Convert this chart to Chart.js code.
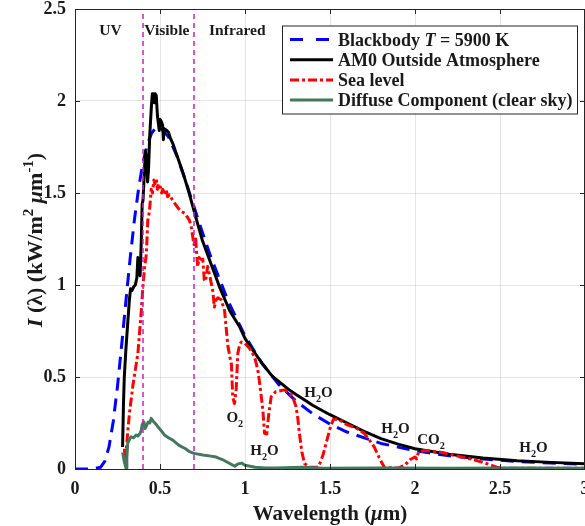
<!DOCTYPE html>
<html>
<head>
<meta charset="utf-8">
<script src="https://cdn.jsdelivr.net/npm/chart.js@4.4.1/dist/chart.umd.min.js"></script>
<style>
  html, body { margin: 0; padding: 0; background: #fff; }
  #wrap { width: 585px; height: 526px; }
</style>
</head>
<body>
<div id="wrap"><canvas id="chart" width="585" height="526"></canvas></div>
<script>
// Blackbody T = 5900 K
const bbWl = [0, 0.05, 0.1, 0.15, 0.175, 0.2, 0.225, 0.25, 0.275, 0.3, 0.325, 0.35, 0.375, 0.4, 0.425,
  0.45, 0.475, 0.5, 0.55, 0.6, 0.65, 0.7, 0.75, 0.8, 0.9, 1.0, 1.1, 1.2, 1.3, 1.4, 1.5, 1.6, 1.8,
  2.0, 2.2, 2.4, 2.6, 2.8, 3.0];
const bbI = [0, 0, 0, 0.009, 0.041, 0.12, 0.258, 0.45, 0.678, 0.918, 1.15, 1.358, 1.531, 1.666, 1.763,
  1.824, 1.854, 1.859, 1.805, 1.70, 1.567, 1.425, 1.284, 1.15, 0.914, 0.723, 0.574, 0.458, 0.369, 0.299,
  0.244, 0.201, 0.139, 0.099, 0.072, 0.054, 0.041, 0.032, 0.025];

// AM0 outside atmosphere
const am0Wl = [0.28, 0.285, 0.29, 0.3, 0.31, 0.32, 0.327, 0.335, 0.345, 0.355, 0.364, 0.37, 0.376, 0.383,
  0.39, 0.395, 0.4, 0.41, 0.415, 0.42, 0.427, 0.432, 0.44, 0.45, 0.455, 0.462, 0.467, 0.472, 0.478, 0.485,
  0.49, 0.496, 0.5, 0.507, 0.515, 0.52, 0.525, 0.54, 0.55, 0.56, 0.575, 0.59, 0.605, 0.635, 0.665, 0.695,
  0.713, 0.75, 0.79, 0.85, 0.91, 0.97, 1.0, 1.05, 1.1, 1.16, 1.2, 1.26, 1.3, 1.36, 1.4, 1.5, 1.6, 1.7,
  1.8, 1.9, 2.0, 2.2, 2.4, 2.6, 2.8, 3.0];
const am0I = [0.12, 0.35, 0.5, 0.66, 0.79, 0.92, 0.98, 0.97, 0.99, 1.0, 1.04, 1.15, 1.08, 1.05,
  1.24, 1.44, 1.46, 1.65, 1.73, 1.69, 1.56, 1.62, 1.82, 1.98, 2.04, 2.04, 1.99, 2.04, 2.03, 1.92,
  1.88, 1.84, 1.9, 1.89, 1.87, 1.79, 1.85, 1.84, 1.83, 1.8, 1.77, 1.73, 1.69, 1.61, 1.52, 1.42,
  1.36, 1.24, 1.14, 0.99, 0.86, 0.77, 0.71, 0.64, 0.575, 0.505, 0.475, 0.43, 0.405, 0.37, 0.345, 0.295,
  0.25, 0.205, 0.165, 0.135, 0.11, 0.08, 0.06, 0.045, 0.036, 0.028];

// Sea level
const seaWl = [0.291, 0.295, 0.3, 0.31, 0.32, 0.34, 0.37, 0.39, 0.4, 0.41, 0.42, 0.428, 0.438, 0.448,
  0.456, 0.464, 0.47, 0.478, 0.485, 0.49, 0.5, 0.51, 0.517, 0.525, 0.536, 0.545, 0.556, 0.575, 0.59,
  0.605, 0.625, 0.645, 0.66, 0.674, 0.685, 0.693, 0.7, 0.71, 0.715, 0.722, 0.73, 0.74, 0.752, 0.76,
  0.768, 0.78, 0.795, 0.81, 0.82, 0.83, 0.84, 0.86, 0.88, 0.89, 0.9, 0.915, 0.92, 0.928, 0.938, 0.948,
  0.958, 0.97, 0.978, 0.997, 1.026, 1.056, 1.075, 1.085, 1.095, 1.105, 1.115, 1.128, 1.14, 1.154, 1.18,
  1.232, 1.26, 1.28, 1.3, 1.31, 1.32, 1.335, 1.35, 1.38, 1.43, 1.445, 1.46, 1.48, 1.5, 1.52, 1.55,
  1.6, 1.65, 1.7, 1.73, 1.76, 1.79, 1.82, 1.9, 1.94, 1.97, 2.0, 2.01, 2.02, 2.05, 2.1, 2.16, 2.24,
  2.34, 2.42, 2.48, 2.52, 2.8, 3.0];
const seaI = [0.11, 0.03, 0.08, 0.2, 0.3, 0.45, 0.63, 0.86, 1.0, 1.1, 1.17, 1.35, 1.4, 1.52,
  1.5, 1.57, 1.55, 1.58, 1.52, 1.55, 1.54, 1.5, 1.52, 1.49, 1.52, 1.48, 1.49, 1.46, 1.44,
  1.42, 1.4, 1.39, 1.37, 1.35, 1.31, 1.26, 1.22, 1.25, 1.18, 1.1, 1.15, 1.14, 1.14, 1.03,
  1.02, 1.1, 1.04, 0.97, 0.88, 0.92, 0.93, 0.92, 0.86, 0.76, 0.665, 0.59, 0.57, 0.39, 0.355, 0.43,
  0.63, 0.68, 0.69, 0.685, 0.656, 0.61, 0.54, 0.475, 0.4, 0.32, 0.194, 0.19, 0.3, 0.393, 0.42,
  0.43, 0.415, 0.393, 0.34, 0.28, 0.194, 0.09, 0.03, 0.01, 0.01, 0.04, 0.08, 0.15, 0.22, 0.27, 0.27,
  0.24, 0.225, 0.195, 0.16, 0.12, 0.06, 0.008, 0.005, 0.02, 0.05, 0.065, 0.055, 0.09, 0.1, 0.097, 0.09, 0.072,
  0.052, 0.03, 0.01, 0.004, 0.004, 0.004];

// Diffuse component (clear sky)
const difWl = [0.28, 0.29, 0.3, 0.305, 0.31, 0.32, 0.33, 0.345, 0.36, 0.37, 0.38, 0.39, 0.395, 0.405,
  0.412, 0.42, 0.43, 0.44, 0.448, 0.46, 0.475, 0.487, 0.51, 0.526, 0.55, 0.575, 0.61, 0.65, 0.674, 0.7,
  0.752, 0.8, 0.83, 0.87, 0.91, 0.94, 0.96, 0.98, 1.0, 1.06, 1.12, 1.18, 1.34, 1.46, 1.8, 2.2, 2.6, 3.0];
const difI = [0.09, 0.04, 0.005, 0.06, 0.14, 0.16, 0.175, 0.17, 0.185, 0.18, 0.19, 0.21, 0.24, 0.257,
  0.22, 0.235, 0.255, 0.25, 0.275, 0.26, 0.245, 0.23, 0.205, 0.185, 0.17, 0.157, 0.13, 0.11, 0.094, 0.085,
  0.076, 0.07, 0.065, 0.05, 0.03, 0.015, 0.028, 0.032, 0.02, 0.01, 0.005, 0.006, 0.01, 0.004, 0.006, 0.004, 0.005, 0.004];

const xTicks = [0, 0.5, 1, 1.5, 2, 2.5, 3];
const yTicks = [0, 0.5, 1, 1.5, 2, 2.5];
const bandEdges = [0.4, 0.7];

// region names and absorption labels, in data units
const regionLabels = [["UV", 0.209, 2.359], ["Visible", 0.54, 2.359], ["Infrared", 0.955, 2.359]];
const gasLabels = [
  [[["O", ""], ["2", "sub"]], 0.94, 0.257],
  [[["H", ""], ["2", "sub"], ["O", ""]], 1.115, 0.076],
  [[["H", ""], ["2", "sub"], ["O", ""]], 1.432, 0.393],
  [[["H", ""], ["2", "sub"], ["O", ""]], 1.885, 0.197],
  [[["C", ""], ["O", ""], ["2", "sub"]], 2.094, 0.136],
  [[["H", ""], ["2", "sub"], ["O", ""]], 2.697, 0.094],
];

const FONT = "'Liberation Serif', 'Times New Roman', serif";
const TXT = "#1a1a1a";
const GREEN = "#44775e";
const MAGENTA = "#cc1ccc";
const RED_DASH = [9, 3, 3, 3];
const BLUE_DASH = [13, 8];

const pts = (xs, ys) => xs.map((x, i) => ({ x, y: ys[i] }));

const legendItems = [
  { parts: [["Blackbody ", ""], ["T", "i"], [" = 5900 K", ""]], color: "#0000ff", dash: [13, 13], width: 3 },
  { parts: [["AM0 Outside Atmosphere", ""]], color: "#000000", dash: [], width: 3 },
  { parts: [["Sea level", ""]], color: "#ff0000", dash: [9, 3, 3, 3], width: 3 },
  { parts: [["Diffuse Component (clear sky)", ""]], color: GREEN, dash: [], width: 3 },
];

function fontFor(style, size) {
  const small = style === "sup" || style === "sub";
  const s = small ? size * 0.68 : size;
  return (style === "i" ? "italic " : "") + "bold " + s + "px " + FONT;
}

function richText(ctx, x, y, parts, size, align) {
  const widths = parts.map(p => { ctx.font = fontFor(p[1], size); return ctx.measureText(p[0]).width; });
  const total = widths.reduce((a, b) => a + b, 0);
  let cx = align === "center" ? x - total / 2 : x;
  ctx.textAlign = "left";
  ctx.textBaseline = "alphabetic";
  parts.forEach((p, i) => {
    ctx.font = fontFor(p[1], size);
    let dy = 0;
    if (p[1] === "sup") dy = -size * 0.42;
    if (p[1] === "sub") dy = size * 0.33;
    ctx.fillText(p[0], cx, y + dy);
    cx += widths[i];
  });
  return total;
}

const decorPlugin = {
  id: "decor",
  afterDatasetsDraw(chart) {
    const { ctx, chartArea: a, scales } = chart;
    const xs = scales.x, ys = scales.y;
    ctx.save();

    // box and inward ticks
    ctx.strokeStyle = "#262626";
    ctx.lineWidth = 1;
    ctx.setLineDash([]);
    ctx.beginPath();
    ctx.moveTo(a.left, a.top + 0.5); ctx.lineTo(a.right, a.top + 0.5);
    ctx.moveTo(a.right - 0.5, a.top); ctx.lineTo(a.right - 0.5, a.bottom);
    xTicks.forEach(v => {
      const px = Math.round(xs.getPixelForValue(v)) + 0.5;
      ctx.moveTo(px, a.bottom); ctx.lineTo(px, a.bottom - 5);
      ctx.moveTo(px, a.top); ctx.lineTo(px, a.top + 5);
    });
    yTicks.forEach(v => {
      const py = Math.round(ys.getPixelForValue(v)) + 0.5;
      ctx.moveTo(a.left, py); ctx.lineTo(a.left + 5, py);
      ctx.moveTo(a.right, py); ctx.lineTo(a.right - 5, py);
    });
    ctx.stroke();

    ctx.fillStyle = TXT;
    ctx.textAlign = "center";
    ctx.textBaseline = "alphabetic";
    ctx.font = "bold 15.5px " + FONT;
    regionLabels.forEach(([t, x, y]) => {
      ctx.fillText(t, xs.getPixelForValue(x), ys.getPixelForValue(y));
    });
    gasLabels.forEach(([parts, x, y]) => {
      richText(ctx, xs.getPixelForValue(x), ys.getPixelForValue(y), parts, 15, "center");
    });

    // legend box
    const lx = 282, ly = 25.5, lw = 295, lh = 88;
    ctx.fillStyle = "#fff";
    ctx.fillRect(lx, ly, lw, lh);
    ctx.strokeStyle = "#262626";
    ctx.lineWidth = 1;
    ctx.strokeRect(lx + 0.5, ly + 0.5, lw, lh);
    legendItems.forEach((it, i) => {
      const cy = 39.5 + i * 20.2;
      ctx.strokeStyle = it.color;
      ctx.lineWidth = it.width;
      ctx.setLineDash(it.dash);
      ctx.beginPath();
      ctx.moveTo(290, cy); ctx.lineTo(333, cy);
      ctx.stroke();
      ctx.setLineDash([]);
      ctx.fillStyle = TXT;
      richText(ctx, 338, cy + 6, it.parts, 18, "left");
    });
    ctx.restore();
  },
  afterDraw(chart) {
    const { ctx } = chart;
    ctx.save();
    ctx.fillStyle = TXT;
    richText(ctx, 330, 520, [["Wavelength (", ""], ["\u03bc", "i"], ["m)", ""]], 21, "center");
    ctx.translate(42, 240);
    ctx.rotate(-Math.PI / 2);
    richText(ctx, 0, 0, [["I", "i"], [" (\u03bb) (kW/m", ""], ["2", "sup"], [" ", ""], ["\u03bc", "i"],
      ["m", ""], ["-1", "sup"], [")", ""]], 22, "center");
    ctx.restore();
  }
};

const lineDs = (label, xs, ys, color, dash, width, order) => ({
  label, data: pts(xs, ys), borderColor: color, backgroundColor: color, borderDash: dash,
  borderWidth: width, pointRadius: 0, tension: 0, fill: false, order,
  borderCapStyle: "butt", borderJoinStyle: "round",
});

const datasets = [
  lineDs("Blackbody T = 5900 K", bbWl, bbI, "#0000ff", BLUE_DASH, 3, 4),
  lineDs("AM0 Outside Atmosphere", am0Wl, am0I, "#000000", [], 3, 3),
  lineDs("Sea level", seaWl, seaI, "#ff0000", RED_DASH, 3, 2),
  lineDs("Diffuse Component (clear sky)", difWl, difI, GREEN, [], 3, 1),
];
bandEdges.forEach(b => {
  datasets.push(lineDs("band", [b, b], [0, 2.5], MAGENTA, [5, 4], 1.5, 0));
});

new Chart(document.getElementById("chart"), {
  type: "line",
  data: { datasets },
  options: {
    responsive: false,
    animation: false,
    devicePixelRatio: 1,
    layout: { padding: { top: 9, right: 0, bottom: 0, left: 0 } },
    plugins: { legend: { display: false }, tooltip: { enabled: false } },
    scales: {
      x: {
        type: "linear", min: 0, max: 3,
        afterBuildTicks: s => { s.ticks = xTicks.map(v => ({ value: v })); },
        afterFit: s => { s.height = 57; s.paddingLeft = 0; s.paddingRight = 0; },
        ticks: { color: TXT, font: { family: FONT, size: 18, weight: "bold" }, padding: 10,
          maxRotation: 0, autoSkip: false, callback: v => String(v) },
        grid: { color: "rgba(0,0,0,0.1)", drawTicks: false },
        border: { display: true, color: "#262626", width: 1 },
      },
      y: {
        type: "linear", min: 0, max: 2.5,
        afterBuildTicks: s => { s.ticks = yTicks.map(v => ({ value: v })); },
        afterFit: s => { s.width = 75; s.paddingTop = 0; s.paddingBottom = 0; },
        ticks: { color: TXT, font: { family: FONT, size: 18, weight: "bold" }, padding: 9,
          autoSkip: false, callback: v => String(v) },
        grid: { color: "rgba(0,0,0,0.1)", drawTicks: false },
        border: { display: true, color: "#262626", width: 1 },
      },
    },
  },
  plugins: [decorPlugin],
});
</script>
</body>
</html>
